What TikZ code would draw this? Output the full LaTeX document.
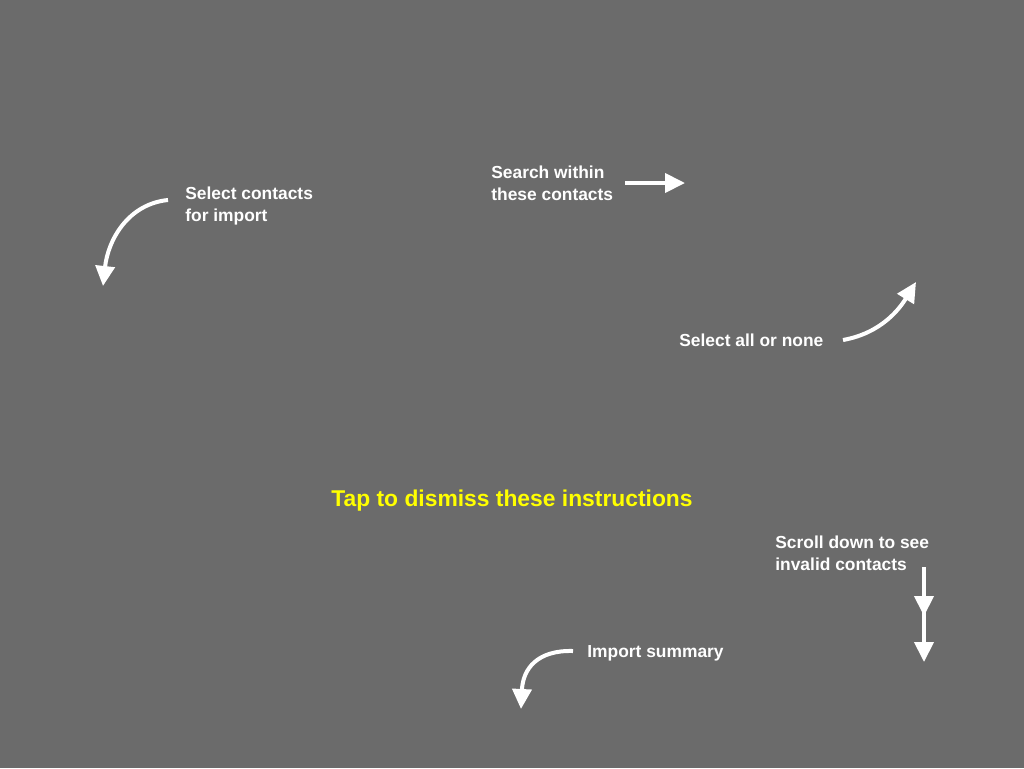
\documentclass[tikz,border=0pt]{standalone}
\usepackage{fontspec}
\setmainfont{Liberation Sans}
\usetikzlibrary{arrows.meta}

\definecolor{fundo}{RGB}{107,107,107}
\definecolor{amarelo}{RGB}{255,255,0}

\tikzset{
  dica/.style={text=white, font=\bfseries\fontsize{9.9}{12.5}\selectfont,
    align=left, anchor=west, inner sep=0pt},
  seta/.style={white, line width=0.08cm,
    -{Triangle[length=0.4cm,width=0.38cm]}}
}

\begin{document}
\begin{tikzpicture}[x=0.02cm,y=-0.02cm]

% Fundo cinza
\fill[fundo] (0,0) rectangle (1024,768);
\useasboundingbox (0,0) rectangle (1024,768);

% Textos
\node[dica] (selecionar) at (185,206) {Select contacts\\for import};
\node[dica] (buscar) at (491,183) {Search within\\these contacts};
\node[dica] (todos) at (679,340) {Select all or none};
\node[dica] (rolar) at (775,553) {Scroll down to see\\invalid contacts};
\node[dica] (resumo) at (587,653) {Import summary};
\node[text=amarelo, font=\bfseries\fontsize{13}{15}\selectfont, inner sep=0pt]
  (dispensar) at (512,501) {Tap to dismiss these instructions};

% Pontas das setas
\coordinate (a1) at (168,200);
\coordinate (b1) at (103,286);
\coordinate (a2) at (625,183);
\coordinate (b2) at (685,183);
\coordinate (a3) at (843,340);
\coordinate (b3) at (916,282);
\coordinate (a4) at (924,567);
\coordinate (m4) at (924,616);
\coordinate (c4) at (924,610);
\coordinate (b4) at (924,662);
\coordinate (a5) at (573,651);
\coordinate (b5) at (521,709);

% Setas
\draw[seta] (a1) .. controls (128,204) and (108,240) .. (b1);
\draw[seta] (a2) -- (b2);
\draw[seta] (a3) .. controls (882,333) and (900,308) .. (b3);
\draw[seta] (a4) -- (m4);
\draw[seta] (c4) -- (b4);
\draw[seta] (a5) .. controls (538,650) and (523,668) .. (b5);

\end{tikzpicture}
\end{document}
